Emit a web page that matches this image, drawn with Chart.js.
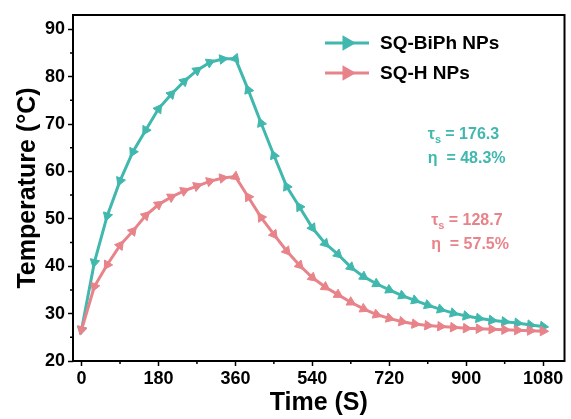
<!DOCTYPE html>
<html>
<head>
<meta charset="utf-8">
<script src="https://cdn.jsdelivr.net/npm/chart.js@4.4.1/dist/chart.umd.min.js"></script>
<style>
  html, body { margin: 0; padding: 0; background: #fff; }
  #wrap { width: 571px; height: 419px; }
</style>
</head>
<body>
<div id="wrap"><canvas id="chart"></canvas></div>
<script>
// time (s) of each reading
const times = [0, 30, 60, 90, 120, 150, 180, 210, 240, 270, 300, 330, 360,
  390, 420, 450, 480, 510, 540, 570, 600, 630, 660, 690, 720, 750, 780,
  810, 840, 870, 900, 930, 960, 990, 1020, 1050, 1080]

const biphTemps = [26.6, 40.8, 50.6, 58.0, 64.1, 68.7, 73.2, 76.3, 79.0, 81.3, 83.0, 83.7, 83.8,
  77.2, 70.2, 63.4, 56.8, 52.5, 48.1, 44.8, 42.5, 39.8, 37.8, 36.3, 35.0, 33.8, 32.8,
  31.8, 30.9, 30.1, 29.5, 29.0, 28.6, 28.3, 28.0, 27.6, 27.3]

const hTemps = [26.6, 35.7, 40.3, 44.4, 47.4, 50.7, 53.0, 54.6, 55.9, 56.9, 57.9, 58.6, 58.9,
  54.6, 50.3, 46.7, 43.2, 40.2, 37.6, 35.6, 34.0, 32.4, 31.0, 29.8, 29.0, 28.3, 27.8,
  27.5, 27.3, 27.1, 26.9, 26.8, 26.7, 26.6, 26.5, 26.4, 26.3]

const seriesLabels = ['SQ-BiPh NPs', 'SQ-H NPs']
const tauValues = ['176.3', '128.7']
const etaValues = ['48.3%', '57.5%']

const xTicks = [0, 180, 360, 540, 720, 900, 1080]
const xMinorTicks = [90, 270, 450, 630, 810, 990]
const yTicks = [20, 30, 40, 50, 60, 70, 80, 90]
const yMinorTicks = [25, 35, 45, 55, 65, 75, 85]

const TEAL = '#40b8ae'
const PINK = '#e8838a'
const FONT = "'Liberation Sans', Arial, sans-serif"

// markers follow the line direction like the original arrows
function arrowRotation(ctx, flipSteep) {
  const chart = ctx.chart
  const xs = chart.scales.x
  const ys = chart.scales.y
  const pts = ctx.dataset.data
  const i = ctx.dataIndex
  const a = pts[Math.max(i - 1, 0)]
  const b = pts[Math.min(i + 1, pts.length - 1)]
  const dx = xs.getPixelForValue(b.x) - xs.getPixelForValue(a.x)
  const dy = ys.getPixelForValue(b.y) - ys.getPixelForValue(a.y)
  let ang = Math.atan2(dy, dx) * 180 / Math.PI
  if (flipSteep && Math.abs(ang) > 55) ang += 180
  return ang + 90
}

const frameAndExtras = {
  id: 'frameAndExtras',
  afterDraw(chart) {
    const { ctx, chartArea: area, scales: { x, y } } = chart
    ctx.save()

    // frame
    ctx.strokeStyle = '#000'
    ctx.lineWidth = 2
    ctx.strokeRect(area.left, area.top, area.right - area.left, area.bottom - area.top)

    // minor ticks
    ctx.lineWidth = 1.5
    ctx.beginPath()
    xMinorTicks.forEach(v => {
      const px = x.getPixelForValue(v)
      ctx.moveTo(px, area.bottom)
      ctx.lineTo(px, area.bottom + 3)
    })
    yMinorTicks.forEach(v => {
      const py = y.getPixelForValue(v)
      ctx.moveTo(area.left, py)
      ctx.lineTo(area.left - 3, py)
    })
    ctx.stroke()

    // legend
    const colors = [TEAL, PINK]
    const lx = area.left + 252
    chart.data.datasets.forEach((ds, i) => {
      const ly = area.top + 28 + i * 30
      ctx.strokeStyle = colors[i]
      ctx.lineWidth = 3
      ctx.beginPath()
      ctx.moveTo(lx, ly)
      ctx.lineTo(lx + 44, ly)
      ctx.stroke()
      ctx.fillStyle = colors[i]
      Chart.helpers.drawPoint(ctx, { pointStyle: 'triangle', rotation: 90, radius: 6, borderWidth: 1 }, lx + 22, ly)
      ctx.fillStyle = '#000'
      ctx.font = 'bold 19px ' + FONT
      ctx.textAlign = 'left'
      ctx.textBaseline = 'middle'
      ctx.fillText(ds.label, lx + 55, ly + 1)
    })

    // time constants and efficiencies
    const notes = [
      { t: 810, temp: 66.8, color: TEAL },
      { t: 818, temp: 48.6, color: PINK }
    ]
    notes.forEach((n, i) => {
      const px = x.getPixelForValue(n.t)
      const py = y.getPixelForValue(n.temp)
      ctx.fillStyle = n.color
      ctx.textBaseline = 'alphabetic'
      ctx.font = 'bold 16px ' + FONT
      ctx.fillText('τ', px, py)
      const tw = ctx.measureText('τ').width
      ctx.font = 'bold 11px ' + FONT
      ctx.fillText('s', px + tw, py + 4)
      ctx.font = 'bold 16px ' + FONT
      ctx.fillText(' = ' + tauValues[i], px + tw + 6, py)
      ctx.fillText('η  = ' + etaValues[i], px, py + 24)
    })

    ctx.restore()
  }
}

new Chart(document.getElementById('chart'), {
  type: 'line',
  data: {
    datasets: [{
      label: seriesLabels[0],
      data: times.map((t, i) => ({ x: t, y: biphTemps[i] })),
      borderColor: TEAL,
      backgroundColor: TEAL,
      borderWidth: 3,
      pointStyle: 'triangle',
      pointRadius: 5.5,
      pointBorderWidth: 1,
      pointRotation: ctx => arrowRotation(ctx, true),
      order: 1
    }, {
      label: seriesLabels[1],
      data: times.map((t, i) => ({ x: t, y: hTemps[i] })),
      borderColor: PINK,
      backgroundColor: PINK,
      borderWidth: 3,
      pointStyle: 'triangle',
      pointRadius: 5.5,
      pointBorderWidth: 1,
      pointRotation: ctx => arrowRotation(ctx, true),
      order: 0
    }]
  },
  options: {
    responsive: true,
    maintainAspectRatio: false,
    animation: false,
    devicePixelRatio: 1,
    layout: { padding: { top: 15, right: 3, left: 0, bottom: 0 } },
    plugins: {
      legend: { display: false },
      tooltip: { enabled: false }
    },
    scales: {
      x: {
        type: 'linear',
        min: -20,
        max: 1130,
        afterBuildTicks: scale => { scale.ticks = xTicks.map(v => ({ value: v })) },
        afterFit: scale => { scale.height = 58 },
        grid: { drawOnChartArea: false, tickLength: 5, tickWidth: 1.5, tickColor: '#000' },
        border: { display: false },
        ticks: {
          color: '#000',
          padding: 2,
          maxRotation: 0,
          callback: value => String(value),
          font: { family: FONT, size: 18, weight: 'bold' }
        },
        title: {
          display: true,
          text: 'Time (S)',
          color: '#000',
          padding: { top: 0, bottom: 1 },
          font: { family: FONT, size: 25, weight: 'bold' }
        }
      },
      y: {
        min: 20,
        max: 93,
        afterBuildTicks: scale => { scale.ticks = yTicks.map(v => ({ value: v })) },
        afterFit: scale => { scale.width = 73 },
        grid: { drawOnChartArea: false, tickLength: 5, tickWidth: 1.5, tickColor: '#000' },
        border: { display: false },
        ticks: {
          color: '#000',
          padding: 3,
          callback: value => String(value),
          font: { family: FONT, size: 18, weight: 'bold' }
        },
        title: {
          display: true,
          text: 'Temperature (°C)',
          color: '#000',
          padding: { top: 13, bottom: 0 },
          font: { family: FONT, size: 25, weight: 'bold' }
        }
      }
    }
  },
  plugins: [frameAndExtras]
})
</script>
</body>
</html>
